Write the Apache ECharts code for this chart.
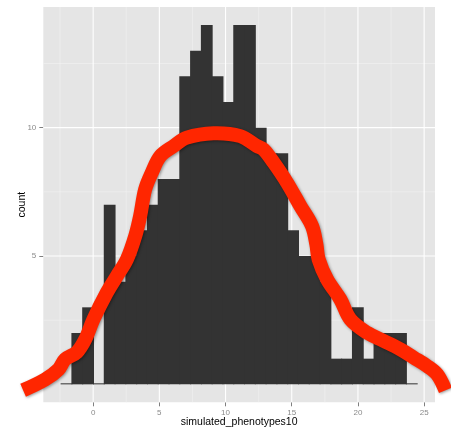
<!DOCTYPE html>
<html>
<head>
<meta charset="utf-8">
<script src="https://cdn.jsdelivr.net/npm/echarts@6/dist/echarts.min.js"></script>
<style>
  html, body { margin: 0; padding: 0; background: #ffffff; }
  #chart { width: 451px; height: 428px; }
</style>
</head>
<body>
<div id="chart"></div>
<script>
// Histogram of simulated_phenotypes10: 33 equal-width bins
const binStart = -2.42;
const binWidth = 0.815;
const binCounts = [0, 2, 3, 0, 7, 4, 5, 6, 7, 8, 8, 12, 13, 14, 12, 11, 14,
                   14, 10, 9, 9, 6, 5, 5, 4, 1, 1, 3, 1, 2, 2, 2, 0];

// Smoothed density overlay, scaled to counts
const curveX = [-5.29, -3.63, -2.62, -2.12, -1.23, -0.60, 0.02, 1.04, 1.79, 2.55,
                3.18, 3.55, 3.93, 4.44, 5.07, 6.07, 7.08, 9.09, 11.11, 12.38,
                12.87, 13.63, 14.64, 15.65, 16.53, 16.86, 17.03, 17.67, 18.67, 19.43,
                20.69, 21.95, 23.21, 24.21, 25.23, 25.98, 26.61];
const curveY = [-0.23, 0.19, 0.58, 0.97, 1.25, 1.75, 2.53, 3.58, 4.22, 4.87,
                5.78, 6.56, 7.60, 8.26, 8.89, 9.28, 9.61, 9.78, 9.67, 9.28,
                9.15, 8.64, 7.86, 6.95, 6.17, 5.45, 4.87, 4.09, 3.31, 2.53,
                2.01, 1.69, 1.36, 1.04, 0.71, 0.39, -0.23];

// Axis breaks
const xBreaks = [0, 5, 10, 15, 20, 25];
const xMinorBreaks = [-2.5, 2.5, 7.5, 12.5, 17.5, 22.5];
const yBreaks = [5, 10];
const yMinorBreaks = [2.5, 7.5, 12.5];

const xRange = [-3.765, 25.82];
const yRange = [-0.7, 14.7];

const histData = binCounts.map((c, i) => [
  binStart + i * binWidth,
  binStart + (i + 1) * binWidth,
  c
]);
const curveData = curveX.map((x, i) => [x, curveY[i]]);

const labelFont = 'Liberation Sans, Arial, sans-serif';

function gridLine(p0, p1, major) {
  return {
    type: 'line',
    shape: { x1: p0[0], y1: p0[1], x2: p1[0], y2: p1[1] },
    style: { stroke: major ? '#ffffff' : '#f2f2f2', lineWidth: major ? 1.1 : 0.6 }
  };
}

const chart = echarts.init(document.getElementById('chart'), null, { renderer: 'canvas' });
chart.setOption({
  animation: false,
  backgroundColor: '#ffffff',
  grid: {
    left: 43.3, right: 16, top: 7, bottom: 25.7,
    containLabel: false,
    outerBoundsMode: 'none',
    show: true, backgroundColor: '#e5e5e5', borderWidth: 0
  },
  xAxis: {
    type: 'value',
    min: xRange[0], max: xRange[1],
    name: 'simulated_phenotypes10',
    nameLocation: 'middle',
    nameGap: 14,
    nameMoveOverlap: false,
    nameTextStyle: { color: '#000000', fontSize: 10.5, fontFamily: labelFont },
    axisLine: { show: false, onZero: false },
    splitLine: { show: false },
    axisTick: { show: true, length: 4, lineStyle: { color: '#7f7f7f', width: 1 }, customValues: xBreaks },
    axisLabel: { color: '#8a8a8a', fontSize: 8, fontFamily: labelFont, margin: 6, customValues: xBreaks }
  },
  yAxis: {
    type: 'value',
    min: yRange[0], max: yRange[1],
    name: 'count',
    nameLocation: 'middle',
    nameGap: 16,
    nameRotate: 90,
    nameMoveOverlap: false,
    nameTextStyle: { color: '#000000', fontSize: 10.5, fontFamily: labelFont },
    axisLine: { show: false, onZero: false },
    splitLine: { show: false },
    axisTick: { show: true, length: 4, lineStyle: { color: '#7f7f7f', width: 1 }, customValues: yBreaks },
    axisLabel: { color: '#8a8a8a', fontSize: 8, fontFamily: labelFont, margin: 7, customValues: yBreaks }
  },
  series: [
    {
      // panel grid lines, drawn under the bars
      type: 'custom',
      z: 1,
      silent: true,
      data: [0],
      renderItem: function (params, api) {
        const children = [];
        xMinorBreaks.forEach(v => children.push(gridLine(api.coord([v, yRange[0]]), api.coord([v, yRange[1]]), false)));
        yMinorBreaks.forEach(v => children.push(gridLine(api.coord([xRange[0], v]), api.coord([xRange[1], v]), false)));
        xBreaks.forEach(v => children.push(gridLine(api.coord([v, yRange[0]]), api.coord([v, yRange[1]]), true)));
        yBreaks.forEach(v => children.push(gridLine(api.coord([xRange[0], v]), api.coord([xRange[1], v]), true)));
        return { type: 'group', children: children };
      }
    },
    {
      type: 'custom',
      z: 3,
      silent: true,
      data: histData,
      renderItem: function (params, api) {
        const x0 = api.value(0), x1 = api.value(1), c = api.value(2);
        const p0 = api.coord([x0, 0]);
        const p1 = api.coord([x1, c]);
        const h = Math.max(p0[1] - p1[1], 1);
        // neighbouring bins overlap by a pixel so no seam shows between them
        return {
          type: 'rect',
          shape: { x: p0[0] - 0.5, y: p0[1] - h, width: p1[0] - p0[0] + 1, height: h },
          style: { fill: '#333333' }
        };
      }
    },
    {
      // density curve, allowed to run past the panel edges
      type: 'custom',
      z: 5,
      silent: true,
      clip: false,
      data: [0],
      renderItem: function (params, api) {
        const pts = curveData.map(d => api.coord(d));
        return {
          type: 'polyline',
          shape: { points: pts, smooth: 0.35 },
          style: {
            fill: null,
            stroke: '#ff2600',
            lineWidth: 14,
            lineCap: 'butt',
            lineJoin: 'round',
            shadowColor: 'rgba(0,0,0,0.4)',
            shadowBlur: 3,
            shadowOffsetX: 1,
            shadowOffsetY: 1
          }
        };
      }
    }
  ]
});
</script>
</body>
</html>
